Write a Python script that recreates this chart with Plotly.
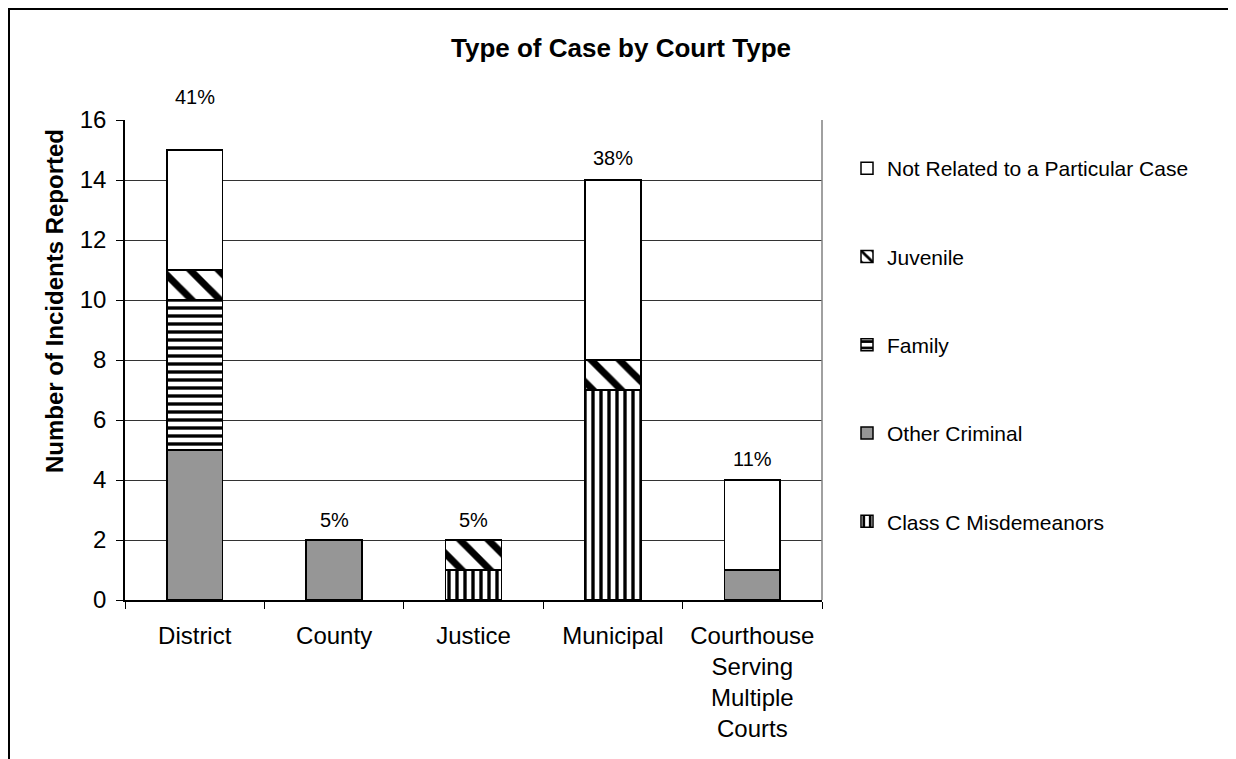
import plotly.graph_objects as go

categories = ["District", "County", "Justice", "Municipal",
              "Courthouse<br>Serving<br>Multiple<br>Courts"]

# stack order bottom -> top
class_c = [0, 0, 1, 7, 0]
other_criminal = [5, 2, 0, 0, 1]
family = [5, 0, 0, 0, 0]
juvenile = [1, 0, 1, 1, 0]
not_related = [4, 0, 0, 6, 3]

pct_labels = ["41%", "5%", "5%", "38%", "11%"]
label_shift = [53, 20, 20, 22, 21]

FONT = "Liberation Sans, Arial, sans-serif"

series = [
    ("Class C Misdemeanors", class_c, "white", "|", 8, 0.42),
    ("Other Criminal", other_criminal, "#969696", "", 8, 0.4),
    ("Family", family, "white", "-", 8, 0.42),
    ("Juvenile", juvenile, "white", "\\", 20, 0.35),
    ("Not Related to a Particular Case", not_related, "white", "", 8, 0.4),
]

# page body has an 8px margin -> figure drawn 8px in from the window edge
W, H = 1228, 751
L, T, R, B = 117, 112, 414, 159
PW, PH = W - L - R, H - T - B

fig = go.Figure()
n = len(series)
for i, (name, vals, col, shape, size, sol) in enumerate(series):
    marker = dict(color=col, line=dict(color="black", width=1.5))
    if shape:
        marker["pattern"] = dict(shape=shape, fgcolor="black", bgcolor="white",
                                 fgopacity=1, size=size, solidity=sol,
                                 fillmode="replace")
    fig.add_trace(go.Bar(
        x=categories, y=vals, name=name, marker=marker,
        legendgroup=name, legendrank=n - i, hoverinfo="skip",
    ))

totals = [sum(v) for v in zip(class_c, other_criminal, family, juvenile, not_related)]
for c, t, lab, sh in zip(categories, totals, pct_labels, label_shift):
    fig.add_annotation(x=c, y=t, text=lab, showarrow=False, yshift=sh,
                       xanchor="center", yanchor="middle",
                       font=dict(size=20, color="black", family=FONT))

# y axis title
fig.add_annotation(xref="paper", yref="paper", x=(46 - L) / PW, y=(H - B - 293) / PH,
                   xanchor="center", yanchor="middle",
                   text="<b>Number of Incidents Reported</b>", textangle=-90,
                   showarrow=False, font=dict(size=24, color="black", family=FONT))

# right plot border line
fig.add_shape(type="line", xref="paper", yref="paper", x0=1, x1=1, y0=0, y1=1,
              line=dict(color="#808080", width=1.5))
# outer chart frame
fig.add_shape(type="rect", xref="paper", yref="paper",
              x0=(1 - L) / PW, x1=(1225 - L) / PW,
              y0=-(B + 20) / PH, y1=(PH + T - 1) / PH,
              line=dict(color="black", width=2), layer="below")

fig.update_layout(
    width=W, height=H,
    margin=dict(l=L, r=R, t=T, b=B),
    barmode="stack", bargap=0.6,
    paper_bgcolor="white", plot_bgcolor="white",
    font=dict(family=FONT, color="black"),
    title=dict(text="<b>Type of Case by Court Type</b>", x=(613) / W, xanchor="center",
               y=1 - 40 / H, yanchor="middle", font=dict(size=26, color="black")),
    legend=dict(x=(839 - L) / PW, y=1 - (140 - T) / PH, xanchor="left", yanchor="top",
                font=dict(size=21, color="black"), tracegroupgap=58,
                itemwidth=30, bgcolor="rgba(0,0,0,0)"),
    showlegend=True,
)
fig.update_xaxes(type="category", showline=True, linecolor="black", linewidth=1.5,
                 ticks="outside", tickson="boundaries", ticklen=7, tickcolor="black",
                 tickfont=dict(size=24, color="black"), showgrid=False,
                 ticklabelstandoff=13)
fig.update_yaxes(range=[0, 16], dtick=2, showline=True, linecolor="black", linewidth=1.5,
                 ticks="outside", ticklen=7, tickcolor="black",
                 tickfont=dict(size=24, color="black"), ticklabelstandoff=5,
                 showgrid=True, gridcolor="#333333", gridwidth=1, zeroline=False)

fig.write_html("out.html")
